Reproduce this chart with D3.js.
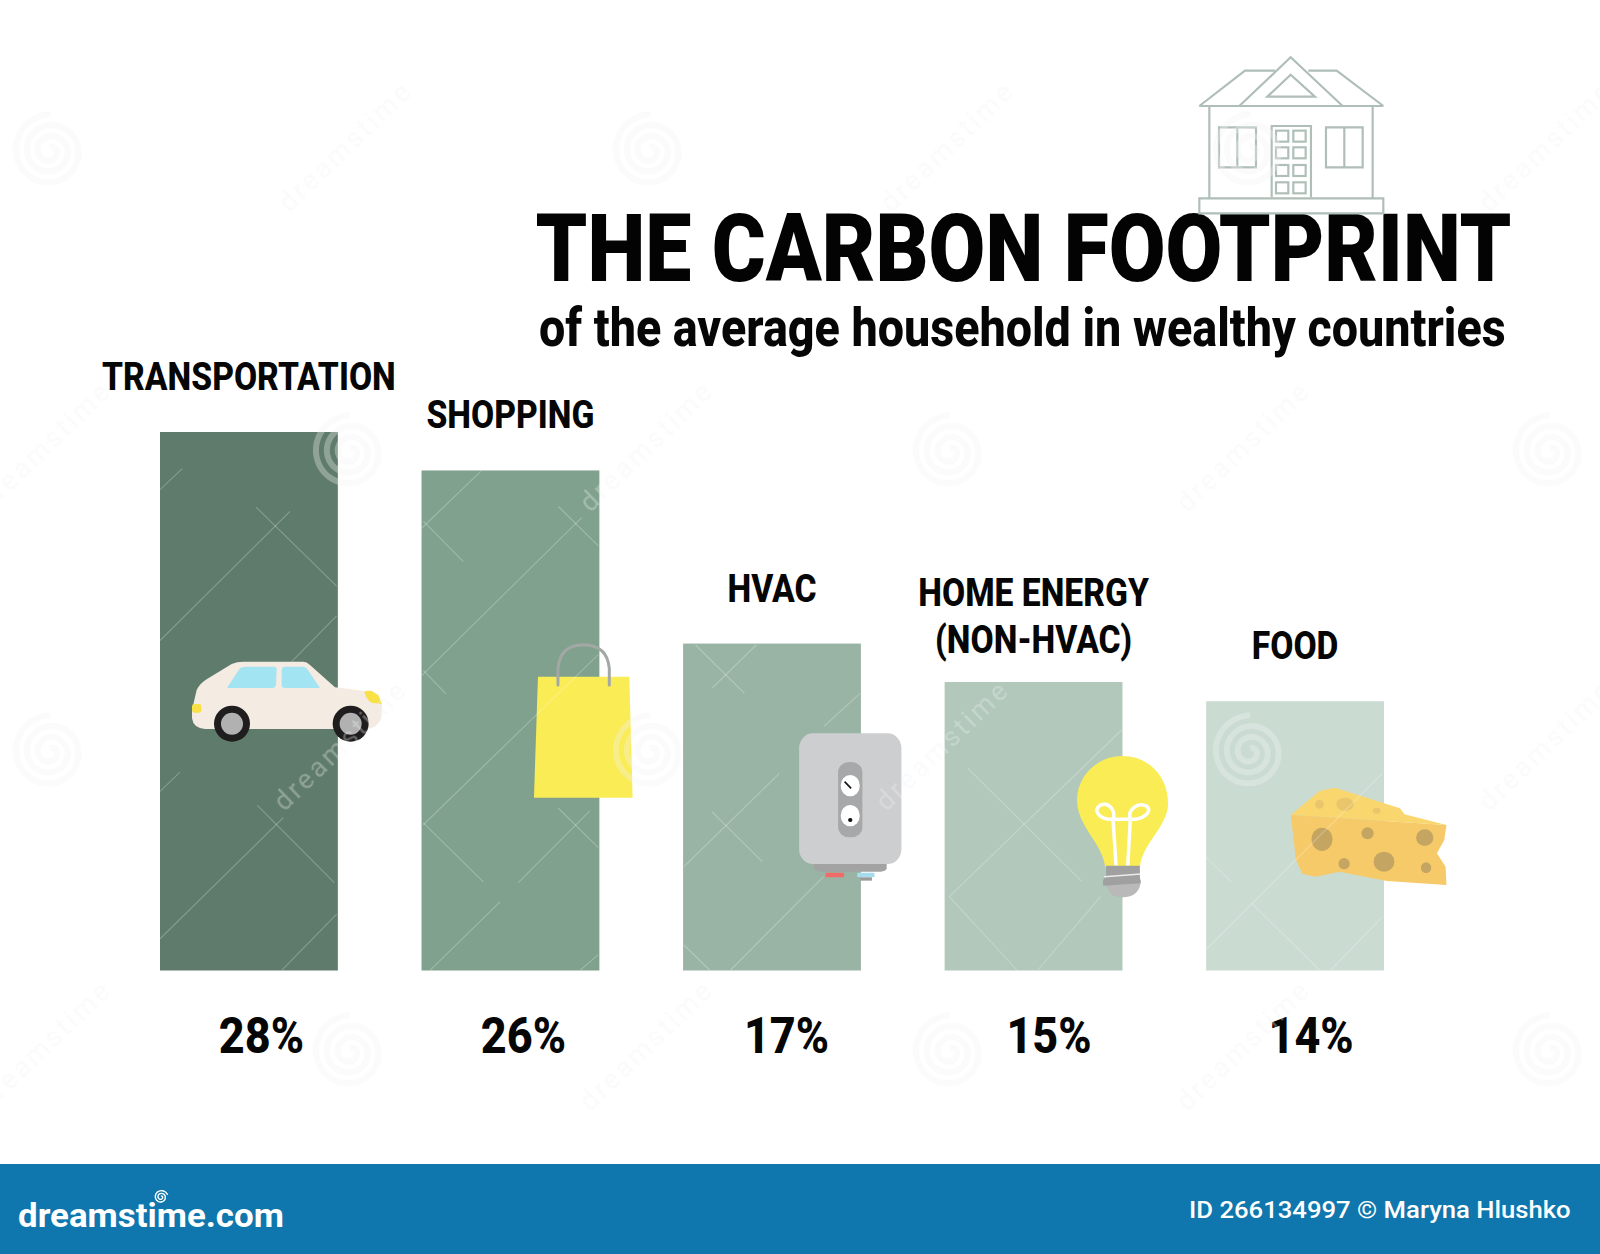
<!DOCTYPE html>
<html><head><meta charset="utf-8">
<script src="https://cdn.jsdelivr.net/npm/d3@7/dist/d3.min.js"></script>
<style>html,body{margin:0;padding:0;background:#fff}svg{display:block}text{font-family:Roboto,sans-serif}</style>
</head><body><svg id="c" width="1600" height="1254"></svg>
<script>
const categories = ["TRANSPORTATION","SHOPPING","HVAC","HOME ENERGY (NON-HVAC)","FOOD"];
const shares = [28,26,17,15,14];
const labelLines = [["TRANSPORTATION"],["SHOPPING"],["HVAC"],["HOME ENERGY","(NON-HVAC)"],["FOOD"]];
const barColors = ["#5f7b6b","#7fa18d","#99b4a4","#b1c8bb","#cadbd2"];
const titleText = "THE CARBON FOOTPRINT";
const subtitleText = "of the average household in wealthy countries";
const footerLeft = "dreamstime.com";
const footerRight = "ID 266134997 © Maryna Hlushko";

const svg = d3.select("#c");
const x = d3.scaleBand().domain(categories).range([160,1384]).paddingInner(0.32).paddingOuter(0);
const y = d3.scaleLinear().domain([0,28]).range([970.5,432]);

// place text at (px,py), narrowed horizontally by factor k or to a target width w
function place(sel,px,py,k,w){ sel.each(function(){ const l=this.getComputedTextLength(); const f = w? w/l : k;
  this.setAttribute("transform",`translate(${px},${py}) scale(${f},1)`); }); return sel; }

// bars
svg.append("defs").append("clipPath").attr("id","barsClip").selectAll("rect").data(categories).join("rect")
  .attr("x",d=>x(d)).attr("width",x.bandwidth()).attr("y",(d,i)=>y(shares[i])).attr("height",(d,i)=>y(0)-y(shares[i]));
svg.append("g").selectAll("rect").data(categories).join("rect")
  .attr("x",d=>x(d)).attr("width",x.bandwidth()).attr("y",(d,i)=>y(shares[i])).attr("height",(d,i)=>y(0)-y(shares[i]))
  .attr("fill",(d,i)=>barColors[i]);

// category labels
const labelFont = 38, lineGap = 47, labelGap = 42, homeGap = 29;
categories.forEach((c,i)=>{
  const lines = labelLines[i], cx = x(c)+x.bandwidth()/2;
  const base = y(shares[i]) - (lines.length>1?homeGap:labelGap);
  lines.forEach((t,j)=>{
    svg.append("text").attr("text-anchor","middle").attr("font-weight",800).attr("font-size",labelFont).attr("fill","#060606").text(t)
      .call(place,cx,base-(lines.length-1-j)*lineGap,0.885);
  });
});

// percent labels
const pctShift = [12.5,13,14.5,15.5,16];
svg.append("g").selectAll("text").data(categories).join("text")
  .attr("text-anchor","middle").attr("font-weight",800).attr("font-size",50).attr("fill","#060606")
  .text((d,i)=>shares[i]+"%")
  .each(function(d,i){ d3.select(this).call(place,x(d)+x.bandwidth()/2+pctShift[i],1053,0.90); });

// title
svg.append("text").attr("font-weight",900).attr("font-size",94).attr("fill","#030303").text(titleText).call(place,535.5,281,0,976);
svg.append("text").attr("font-weight",800).attr("font-size",53).attr("fill","#060606").text(subtitleText).call(place,539,346,0,967);

// house (zoom-space drawing)
const house = svg.append("g").attr("transform","translate(1180,40) scale(0.3333)")
  .attr("fill","none").attr("stroke","#afbeb7").attr("stroke-width",6.5);
house.selectAll("path").data([
 "M58,198L610,198","M58,198L195,92L285,92","M385,92L470,92L610,198","M178,198L332,52L488,198",
 "M262,170L332,104L405,170Z","M88,198V475","M578,198V475","M58,475H610V520H58Z",
 "M275,472V258H393V472","M117,262H228V382H117Z","M172,262V382","M438,262H548V382H438Z","M493,262V382"
]).join("path").attr("d",d=>d);
[[288,272],[340,272],[288,322],[340,322],[288,375],[340,375],[288,427],[340,427]].forEach(p=>
  house.append("rect").attr("x",p[0]).attr("y",p[1]).attr("width",37).attr("height",33));

// car and bag
const g2 = svg.append("g").attr("transform","translate(170,630) scale(0.3333)");
g2.append("path").attr("fill","#f4ebe2").attr("d","M66,265 L66,240 L80,180 Q90,160 110,148 L185,102 Q200,95 220,95 L400,95 Q410,95 420,105 L495,172 L585,183 L625,200 L636,225 L634,265 Q620,297 590,297 L105,297 Q70,295 66,265Z");
g2.append("path").attr("fill","#a3e4f3").attr("d","M172,172 L210,115 Q215,110 225,110 L312,110 Q320,110 320,120 L318,165 Q316,174 308,174 L175,174Z");
g2.append("path").attr("fill","#a3e4f3").attr("d","M335,122 Q336,110 345,110 L400,110 Q408,110 412,118 L450,174 L345,174 Q335,174 335,165Z");
g2.append("path").attr("fill","#f8e045").attr("d","M583,186 Q590,180 605,183 L625,195 L636,222 L605,218 Q590,210 583,186Z");
g2.append("rect").attr("fill","#f8e045").attr("x",66).attr("y",222).attr("width",28).attr("height",26).attr("rx",7);
[186,542].forEach(cx=>{
  g2.append("circle").attr("cx",cx).attr("cy",281).attr("r",54).attr("fill","#1f1d1e");
  g2.append("circle").attr("cx",cx).attr("cy",281).attr("r",33).attr("fill","#b1b1b1");
});
g2.append("path").attr("fill","#f9ec55").attr("d","M1104,140H1378L1388,503H1092Z");
g2.append("path").attr("fill","none").attr("stroke","#a3a8a5").attr("stroke-width",9).attr("stroke-linecap","round")
  .attr("d","M1164,165 L1164,115 Q1170,45 1240,44 Q1312,45 1318,115 L1318,165");

// heater, bulb, cheese (zoom-space drawing)
const g3 = svg.append("g").attr("transform","translate(780,720) scale(0.4336,0.3333)");
g3.append("path").attr("fill","#a3a3a3").attr("d","M78,430H246V445Q244,455 232,455H95Q82,455 78,445Z");
g3.append("rect").attr("x",44).attr("y",40).attr("width",236).attr("height",392).attr("rx",32).attr("ry",44).attr("fill","#cdced0");
g3.append("rect").attr("x",105).attr("y",458).attr("width",43).attr("height",14).attr("rx",3).attr("fill","#ef6c68");
g3.append("rect").attr("x",178).attr("y",458).attr("width",40).attr("height",14).attr("rx",3).attr("fill","#a5dcee");
g3.append("rect").attr("x",185).attr("y",472).attr("width",27).attr("height",10).attr("fill","#9a9a9a");
g3.append("rect").attr("x",134).attr("y",126).attr("width",56).attr("height",226).attr("rx",26).attr("ry",30).attr("fill","#a7a8aa");
[197,287].forEach(cy=>g3.append("ellipse").attr("cx",162).attr("cy",cy).attr("rx",22).attr("ry",32).attr("fill","#fff"));
g3.append("path").attr("stroke","#111").attr("stroke-width",1.6).attr("vector-effect","non-scaling-stroke").attr("d","M149,185L164,205");
g3.append("ellipse").attr("cx",162).attr("cy",300).attr("rx",5).attr("ry",6).attr("fill","#111");
// bulb
g3.append("path").attr("fill","#f9ec55").attr("d","M790,108C850,108 895,170 895,250C895,320 835,370 830,442L750,442C745,370 685,320 685,240C685,170 730,108 790,108Z");
g3.append("path").attr("fill","none").attr("stroke","#fff").attr("stroke-width",3.5).attr("vector-effect","non-scaling-stroke")
  .attr("d","M775,437L768,298C738,300 718,270 740,255C760,245 775,275 768,298L808,298C800,270 825,245 845,258C862,275 835,300 808,298L802,437");
g3.append("path").attr("fill","#b9b9b9").attr("d","M752,480H832C832,515 815,532 790,532C765,532 752,515 752,480Z");
g3.append("path").attr("fill","#a0a0a0").attr("d","M752,437H830V470L832,490L745,497L745,480L752,470Z");
g3.append("path").attr("fill","none").attr("stroke","#fff").attr("stroke-width",1.5).attr("vector-effect","non-scaling-stroke").attr("opacity",.8)
  .attr("d","M748,470L832,462");
// cheese
g3.append("path").attr("fill","#f9d66e").attr("d","M1178,285L1245,212L1280,203L1430,265L1440,283L1537,315Z");
g3.append("path").attr("fill","#f6ca68").attr("d","M1178,285L1537,315L1532,360L1515,400L1535,440L1537,495L1400,483L1290,455L1235,470L1205,462L1190,420Z");
[[1250,358,24,35],[1355,340,14,18],[1487,353,20,25],[1393,425,24,30],[1301,431,13,17],[1490,443,12,16]].forEach(e=>
  g3.append("ellipse").attr("cx",e[0]).attr("cy",e[1]).attr("rx",e[2]).attr("ry",e[3]).attr("fill","#c4a561"));
[[1244,253,10,13],[1303,253,20,20],[1376,272,9,9]].forEach(e=>
  g3.append("ellipse").attr("cx",e[0]).attr("cy",e[1]).attr("rx",e[2]).attr("ry",e[3]).attr("fill","#e9c56b"));

// faint stock-image overlay
const spiralLine = d3.lineRadial().curve(d3.curveBasis);
const spiralPts = d3.range(0,100).map(i=>{const t=i/99; return [t*Math.PI*2*3, 4+t*33];});
const spiralCenters = [[50,151],[650,151],[1250,151],[350,452],[950,452],[1550,452],[50,752],[650,752],[1250,752],[350,1052],[950,1052],[1550,1052]];
const wmTextCenters = [[352,153],[954,153],[1552,153],[51,453],[653,453],[1250,453],[347,752],[949,752],[1552,752],[51,1052],[653,1052],[1250,1052]];
const ov = svg.append("g").attr("pointer-events","none");
[["#8a8f8c",0.05],["#ffffff",0.3]].forEach(([col,op])=>{
  const l = ov.append("g").attr("opacity",op);
  spiralCenters.forEach(c=>l.append("path").attr("transform",`translate(${c[0]},${c[1]})`).attr("d",spiralLine(spiralPts))
    .attr("fill","none").attr("stroke-width",6).attr("stroke",col));
  wmTextCenters.forEach(c=>l.append("text").attr("transform",`translate(${c[0]},${c[1]}) rotate(-44)`)
    .attr("text-anchor","middle").attr("font-family","Lato").attr("font-size",27).attr("letter-spacing",3).attr("fill",col).text("dreamstime"));
});
// hairline crossings on the bars
const seg9 = [[318,220,560,445],[420,232,30,600],[322,1070,553,1290],[400,1105,30,1450],[97,110,30,170],[90,975,30,1030],[560,530,425,660],[560,1380,395,1540],
 [992,118,815,280],[820,260,940,375],[1295,250,815,700],[1225,218,1345,330],[820,685,888,752],[1345,640,820,1125],[820,1120,1000,1288],[1225,1078,1345,1190],[1320,1085,1105,1290],[1050,1345,840,1540],[1345,1495,1290,1540]];
const seg10 = [[55,45,160,190],[185,45,90,175],[408,190,330,290],[235,430,30,710],[90,545,198,695],[330,740,130,1020],[30,945,85,1020],
 [640,415,885,755],[970,300,600,800],[600,800,745,1020],[925,800,790,1020],[1530,430,1150,960],[1150,680,1205,755],[1250,820,1395,1020],[1530,860,1420,1020]];
const hair = ov.append("g").attr("clip-path","url(#barsClip)").attr("stroke","#fff").attr("stroke-opacity",0.26).attr("stroke-width",1.1);
seg9.forEach(s=>hair.append("line").attr("x1",150+s[0]/3).attr("y1",430+s[1]/2.85).attr("x2",150+s[2]/3).attr("y2",430+s[3]/2.85));
seg10.forEach(s=>hair.append("line").attr("x1",670+s[0]/2.148).attr("y1",630+s[1]/3).attr("x2",670+s[2]/2.148).attr("y2",630+s[3]/3));

// footer
svg.append("rect").attr("x",0).attr("y",1164).attr("width",1600).attr("height",90).attr("fill","#0f77ad");
svg.append("text").attr("font-family","Lato").attr("font-weight",700).attr("font-size",33).attr("fill","#fff").text(footerLeft).call(place,18,1227,0,266);
svg.append("path").attr("transform","translate(161,1197)").attr("fill","none").attr("stroke","#fff").attr("stroke-width",1.4)
  .attr("d",d3.lineRadial().curve(d3.curveBasis)(d3.range(0,40).map(i=>{const t=i/39;return [t*Math.PI*2*2.2,1+t*6];})));
svg.append("text").attr("font-weight",500).attr("font-size",23).attr("fill","#fff").text(footerRight).call(place,1189,1218,0,382);
</script></body></html>
